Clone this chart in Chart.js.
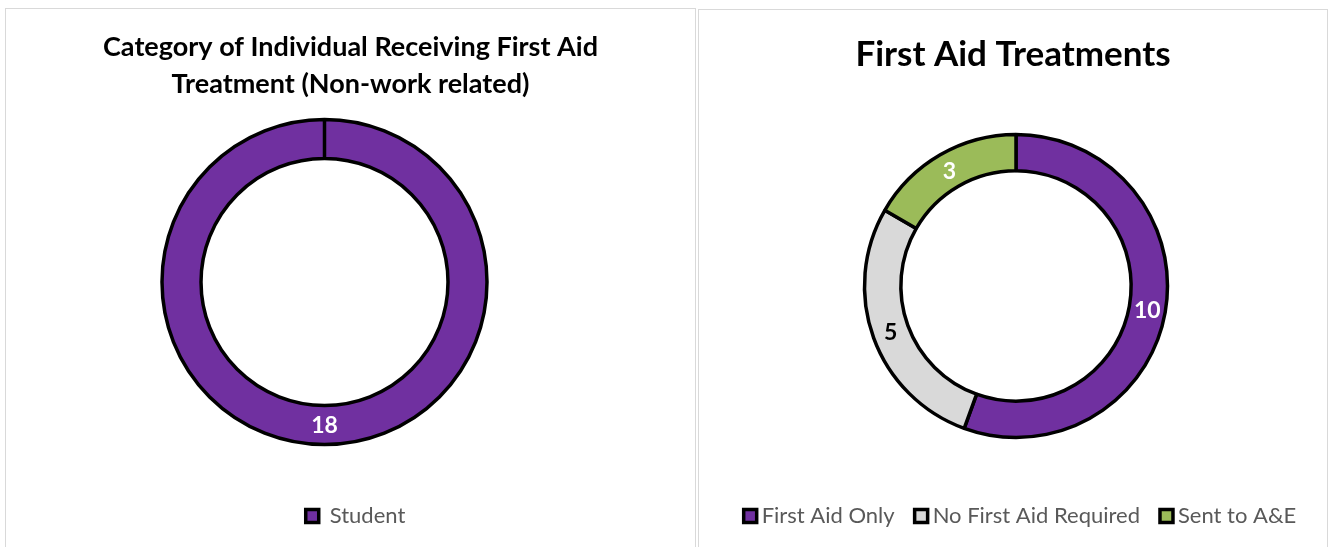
<!DOCTYPE html>
<html>
<head>
<meta charset="utf-8">
<script src="https://cdn.jsdelivr.net/npm/chart.js@4.4.1/dist/chart.umd.min.js"></script>
<style>
  body { margin: 0; background: #fff; width: 1333px; height: 547px; overflow: hidden; position: relative; }
  .panel { position: absolute; border: 1px solid #d9d9d9; border-bottom: none; background: #fff; }
  #p1 { left: 5px; top: 8px; width: 689px; height: 539px; }
  #p2 { left: 698px; top: 9px; width: 628px; height: 538px; }
  canvas { display: block; }
</style>
</head>
<body>
<div class="panel" id="p1"><canvas id="chart1" width="689" height="539"></canvas></div>
<div class="panel" id="p2"><canvas id="chart2" width="628" height="538"></canvas></div>
<script>
// left chart
const catLabels = ["Student"];
const catValues = [18];

// right chart
const treatLabels = ["First Aid Only", "No First Aid Required", "Sent to A&E"];
const treatValues = [10, 5, 3];
const treatColors = ["#7030A0", "#D9D9D9", "#9BBB59"];
const treatLabelColors = ["#FFFFFF", "#000000", "#FFFFFF"];

const FONT = "Lato, 'Open Sans', sans-serif";

// writes each value in the middle of its slice
const valueLabels = {
  id: "valueLabels",
  afterDatasetsDraw(chart, args, opts) {
    const ctx = chart.ctx;
    const meta = chart.getDatasetMeta(0);
    const values = chart.data.datasets[0].data;
    ctx.save();
    ctx.font = "bold 23px " + FONT;
    ctx.textAlign = "center";
    ctx.textBaseline = "middle";
    meta.data.forEach((arc, i) => {
      const p = arc.tooltipPosition();
      ctx.fillStyle = opts.colors[i];
      ctx.fillText(values[i], p.x, p.y + 1);
    });
    ctx.restore();
  }
};

// nudges the plot area and the legend sideways, the title stays centred
const shiftArea = {
  id: "shiftArea",
  afterLayout(chart, args, opts) {
    const dx = opts.dx || 0;
    chart.chartArea.left += dx;
    chart.chartArea.right += dx;
    const ldx = opts.legendDx || 0;
    if (chart.legend) {
      chart.legend.left += ldx;
      chart.legend.right += ldx;
    }
  }
};

new Chart(document.getElementById("chart1"), {
  type: "doughnut",
  data: {
    labels: catLabels,
    datasets: [{
      data: catValues,
      backgroundColor: ["#7030A0"],
      borderColor: "#000000",
      borderWidth: 3.5
    }]
  },
  plugins: [valueLabels, shiftArea],
  options: {
    responsive: false,
    animation: false,
    radius: 162.5,
    cutout: "76%",
    layout: { padding: { top: 0, bottom: 11, left: 0, right: 0 } },
    plugins: {
      title: {
        display: true,
        text: ["Category of Individual Receiving First Aid", "Treatment (Non-work related)"],
        color: "#000",
        font: { family: FONT, size: 27, weight: "bold", lineHeight: 1.37 },
        padding: { top: 20, bottom: 10 }
      },
      legend: {
        position: "bottom",
        labels: {
          color: "#595959",
          font: { family: FONT, size: 22 },
          boxWidth: 13,
          boxHeight: 13,
          padding: 54
        }
      },
      tooltip: { enabled: false },
      valueLabels: { colors: ["#FFFFFF"] },
      shiftArea: { dx: -26, legendDx: 5 }
    }
  }
});

new Chart(document.getElementById("chart2"), {
  type: "doughnut",
  data: {
    labels: treatLabels,
    datasets: [{
      data: treatValues,
      backgroundColor: treatColors,
      borderColor: "#000000",
      borderWidth: 3.5
    }]
  },
  plugins: [valueLabels, shiftArea],
  options: {
    responsive: false,
    animation: false,
    radius: 151.5,
    cutout: "76%",
    layout: { padding: { top: 0, bottom: 11, left: 0, right: 0 } },
    plugins: {
      title: {
        display: true,
        text: "First Aid Treatments",
        color: "#000",
        font: { family: FONT, size: 35, weight: "bold", lineHeight: 1.2 },
        padding: { top: 24, bottom: 17 }
      },
      legend: {
        position: "bottom",
        labels: {
          color: "#595959",
          font: { family: FONT, size: 22 },
          usePointStyle: true,
          pointStyle: "rect",
          boxWidth: 1,
          boxHeight: 13,
          padding: 26
        }
      },
      tooltip: { enabled: false },
      valueLabels: { colors: treatLabelColors },
      shiftArea: { dx: 3, legendDx: 10 }
    }
  }
});
</script>
</body>
</html>
